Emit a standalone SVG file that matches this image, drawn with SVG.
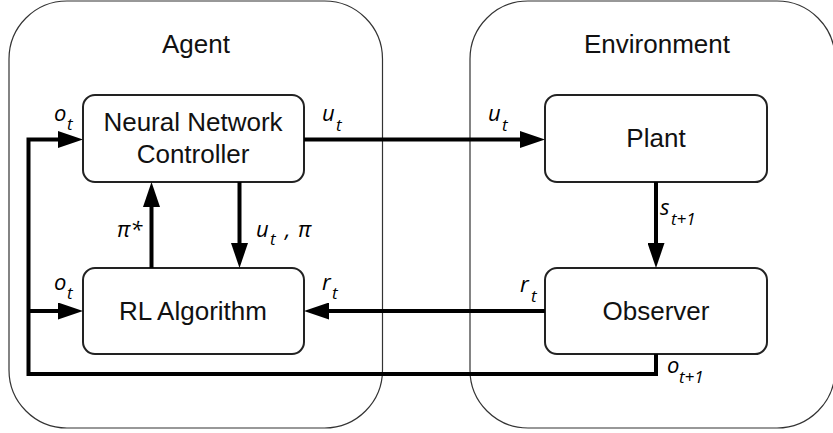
<svg xmlns="http://www.w3.org/2000/svg" width="833" height="433" viewBox="0 0 833 433">
<style>
.container{fill:none;stroke:#333;stroke-width:1.2}
.node{fill:#fff;stroke:#222;stroke-width:2}
.title{font-family:"Liberation Sans",Arial,sans-serif;font-size:26px;fill:#111;text-anchor:middle}
.conn{fill:none;stroke:#000;stroke-width:4;stroke-linejoin:miter}
.lbl{font-family:"Open Sans","Liberation Sans",sans-serif;font-style:italic;font-size:22px;fill:#000}
.sub{font-size:17px}
</style>
<defs>
<marker id="ah" markerUnits="userSpaceOnUse" markerWidth="25" markerHeight="17" refX="0" refY="8.5" orient="auto">
<path d="M0,0 L25,8.5 L0,17 z" fill="#000"/>
</marker>
</defs>
<g id="agent">
<rect class="container" x="9" y="1" width="373.5" height="427" rx="58" ry="58"/>
<text class="title" x="196" y="53">Agent</text>
</g>
<g id="environment">
<rect class="container" x="470" y="1" width="365" height="427" rx="58" ry="58"/>
<text class="title" x="657" y="53">Environment</text>
</g>
<g id="nn-controller">
<rect class="node" x="83" y="95" width="221" height="87" rx="12" ry="12"/>
<text class="title" x="193" y="131">Neural Network</text>
<text class="title" x="193" y="163">Controller</text>
</g>
<g id="rl-algorithm">
<rect class="node" x="83" y="268" width="221" height="86" rx="12" ry="12"/>
<text class="title" x="193" y="320">RL Algorithm</text>
</g>
<g id="plant">
<rect class="node" x="545" y="95" width="222" height="87" rx="12" ry="12"/>
<text class="title" x="656" y="147">Plant</text>
</g>
<g id="observer">
<rect class="node" x="545" y="268" width="222" height="86" rx="12" ry="12"/>
<text class="title" x="656" y="320">Observer</text>
</g>
<g id="connectors">
<path class="conn" d="M304,139.5 H520" marker-end="url(#ah)"/>
<path class="conn" d="M656,182 V243" marker-end="url(#ah)"/>
<path class="conn" d="M545,311 H329" marker-end="url(#ah)"/>
<path class="conn" d="M239.5,182 V243" marker-end="url(#ah)"/>
<path class="conn" d="M151.5,268 V207" marker-end="url(#ah)"/>
<path class="conn" d="M656,354 V374 H28.5 V139.5 H58" marker-end="url(#ah)"/>
<path class="conn" d="M28.5,311 H58" marker-end="url(#ah)"/>
</g>
<g id="labels">
<text class="lbl"><tspan x="54" y="121">o</tspan><tspan class="sub" x="67" y="130">t</tspan></text>
<text class="lbl"><tspan x="322" y="121">u</tspan><tspan class="sub" x="336" y="131">t</tspan></text>
<text class="lbl"><tspan x="488" y="121">u</tspan><tspan class="sub" x="502" y="131">t</tspan></text>
<text class="lbl" x="117" y="237">π*</text>
<text class="lbl"><tspan x="256" y="237">u</tspan><tspan class="sub" x="270" y="245">t</tspan><tspan x="285" y="237">,</tspan><tspan x="298" y="237">π</tspan></text>
<text class="lbl"><tspan x="54" y="290">o</tspan><tspan class="sub" x="67" y="299">t</tspan></text>
<text class="lbl"><tspan x="322" y="290">r</tspan><tspan class="sub" x="332" y="299">t</tspan></text>
<text class="lbl"><tspan x="520" y="292">r</tspan><tspan class="sub" x="531" y="302">t</tspan></text>
<text class="lbl"><tspan x="660" y="215">s</tspan><tspan class="sub" x="671" y="225">t+1</tspan></text>
<text class="lbl"><tspan x="667" y="373">o</tspan><tspan class="sub" x="679" y="383">t+1</tspan></text>
</g>
</svg>
